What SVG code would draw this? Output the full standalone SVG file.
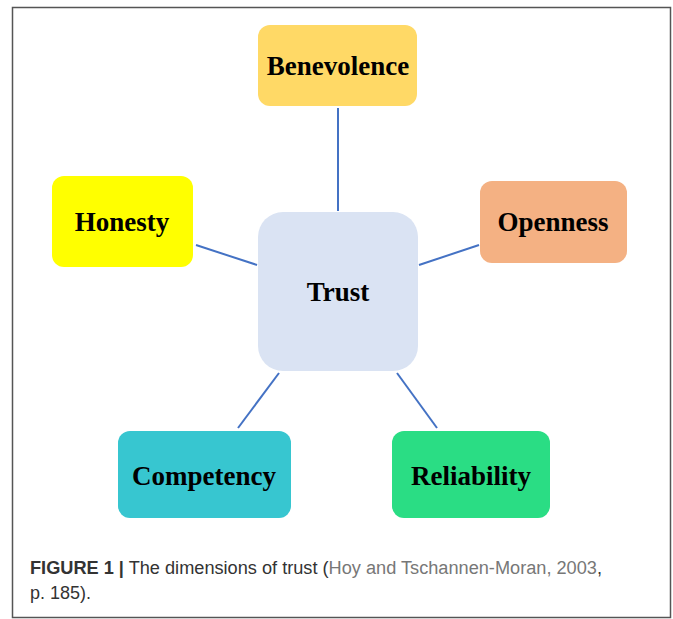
<svg xmlns="http://www.w3.org/2000/svg" width="673" height="619" viewBox="0 0 673 619">
<style>
.node text{font-family:"Liberation Serif","Times New Roman",serif;font-weight:bold;font-size:27px;fill:#000;text-anchor:middle}
.conn line{stroke:#4472C4;stroke-width:2}
.cap{font-family:"Liberation Sans",Arial,sans-serif;font-size:18px;fill:#333}
</style>
<rect x="0" y="0" width="673" height="619" fill="#fff"/>
<rect x="12.5" y="7.5" width="658" height="610" fill="none" stroke="#555" stroke-width="1.5"/>
<g class="conn">
<line x1="338" y1="108" x2="338" y2="211"/>
<line x1="196" y1="245" x2="257" y2="265"/>
<line x1="419" y1="265" x2="479" y2="245"/>
<line x1="238" y1="428" x2="279" y2="373"/>
<line x1="397" y1="373" x2="437" y2="428"/>
</g>
<g id="benevolence" class="node"><rect x="258" y="25" width="159" height="81" rx="12" fill="#FFD966"/><text x="338" y="75">Benevolence</text></g>
<g id="honesty" class="node"><rect x="52" y="176" width="141" height="91" rx="12" fill="#FFFF00"/><text x="122" y="231">Honesty</text></g>
<g id="openness" class="node"><rect x="480" y="181" width="147" height="82" rx="12" fill="#F4B183"/><text x="553" y="231">Openness</text></g>
<g id="trust" class="node"><rect x="258" y="212" width="160" height="159" rx="25" fill="#DAE3F3"/><text x="338" y="301">Trust</text></g>
<g id="competency" class="node"><rect x="118" y="431" width="173" height="87" rx="12" fill="#37C6D0"/><text x="204" y="485">Competency</text></g>
<g id="reliability" class="node"><rect x="392" y="431" width="158" height="87" rx="12" fill="#2ADD84"/><text x="471" y="485">Reliability</text></g>
<text class="cap" x="30" y="574" textLength="572" lengthAdjust="spacingAndGlyphs"><tspan font-weight="bold">FIGURE 1 |</tspan> The dimensions of trust (<tspan fill="#777">Hoy and Tschannen-Moran, 2003</tspan>,</text>
<text class="cap" x="30" y="599">p. 185).</text>
</svg>
